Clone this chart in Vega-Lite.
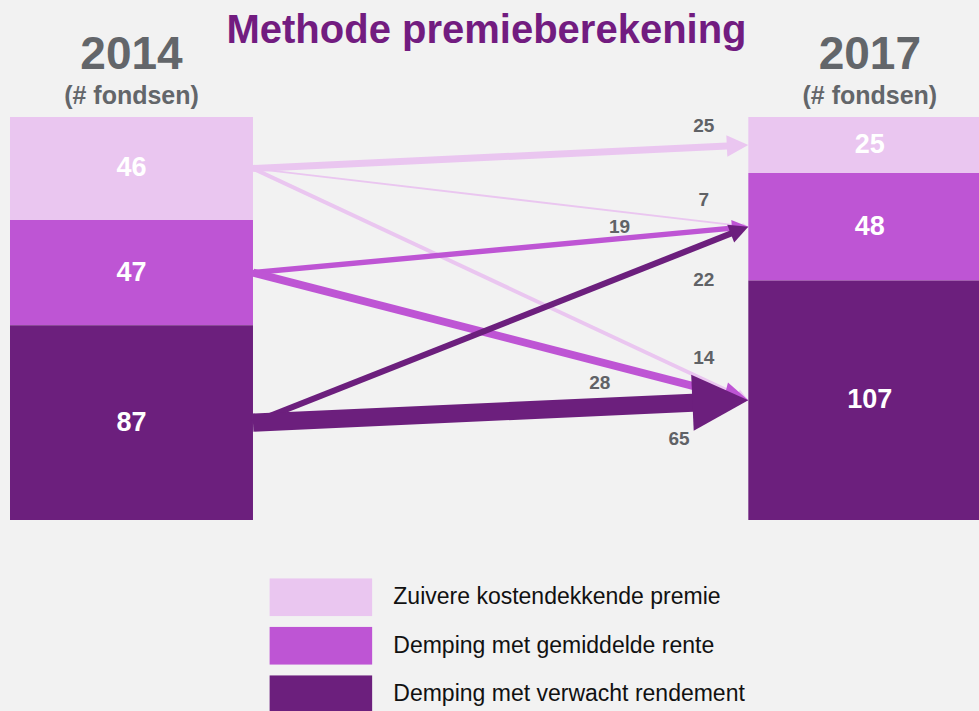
{
  "$schema": "https://vega.github.io/schema/vega-lite/v6.json",
  "autosize": "none",
  "width": 969,
  "height": 403,
  "padding": {"left": 10, "top": 117, "right": 0, "bottom": 191},
  "background": "#f2f2f2",
  "config": {"view": {"stroke": null}, "font": "Liberation Sans", "axis": {"grid": false}},
  "title": {
    "text": "Methode premieberekening",
    "fontSize": 40,
    "fontWeight": "bold",
    "color": "#721c80",
    "font": "Liberation Sans",
    "anchor": "middle",
    "frame": "group",
    "offset": -20,
    "dx": -8
  },
  "datasets": {
    "segments": [
      {"year": "2014", "method": "Zuivere kostendekkende premie", "rank": 1, "count": 46},
      {"year": "2014", "method": "Demping met gemiddelde rente", "rank": 2, "count": 47},
      {"year": "2014", "method": "Demping met verwacht rendement", "rank": 3, "count": 87},
      {"year": "2017", "method": "Zuivere kostendekkende premie", "rank": 1, "count": 25},
      {"year": "2017", "method": "Demping met gemiddelde rente", "rank": 2, "count": 48},
      {"year": "2017", "method": "Demping met verwacht rendement", "rank": 3, "count": 107}
    ],
    "flows": [
      {"from": "Zuivere kostendekkende premie", "to": "Zuivere kostendekkende premie", "fromRank": 1, "toRank": 1, "count": 25},
      {"from": "Zuivere kostendekkende premie", "to": "Demping met gemiddelde rente", "fromRank": 1, "toRank": 2, "count": 7},
      {"from": "Zuivere kostendekkende premie", "to": "Demping met verwacht rendement", "fromRank": 1, "toRank": 3, "count": 14},
      {"from": "Demping met gemiddelde rente", "to": "Demping met gemiddelde rente", "fromRank": 2, "toRank": 2, "count": 19},
      {"from": "Demping met gemiddelde rente", "to": "Demping met verwacht rendement", "fromRank": 2, "toRank": 3, "count": 28},
      {"from": "Demping met verwacht rendement", "to": "Demping met gemiddelde rente", "fromRank": 3, "toRank": 2, "count": 22},
      {"from": "Demping met verwacht rendement", "to": "Demping met verwacht rendement", "fromRank": 3, "toRank": 3, "count": 65}
    ]
  },
  "layer": [
    {
      "data": {"name": "segments"},
      "transform": [
        {"stack": "count", "groupby": ["year"], "sort": [{"field": "rank", "order": "ascending"}], "as": ["y0", "y1"]}
      ],
      "mark": {"type": "bar"},
      "encoding": {
        "x": {
          "field": "year", "type": "nominal",
          "scale": {"type": "band", "range": [0, 981.3], "paddingInner": 0.6709, "paddingOuter": 0},
          "axis": {"orient": "top", "title": null, "domain": false, "ticks": false, "tickSize": 0, "labelFontSize": 46, "labelFontWeight": "bold", "labelColor": "#63666a", "labelBaseline": "alphabetic", "labelPadding": 49, "labelAngle": 0, "grid": false}
        },
        "y": {"field": "y0", "type": "quantitative", "scale": {"domain": [0, 180], "reverse": true, "nice": false, "zero": false}, "axis": null},
        "y2": {"field": "y1"},
        "color": {
          "field": "method", "type": "nominal",
          "scale": {"domain": ["Zuivere kostendekkende premie", "Demping met gemiddelde rente", "Demping met verwacht rendement"], "range": ["#eac6f0", "#be55d4", "#6c1f7d"]},
          "legend": {
            "orient": "none", "legendX": 259.3, "legendY": 461.3, "direction": "vertical", "title": null,
            "symbolType": "M-1,-0.37H1V0.37H-1Z", "symbolSize": 10547, "symbolStrokeWidth": 0, "symbolOpacity": 1,
            "labelFontSize": 23, "labelColor": "#111111", "labelFont": "Liberation Sans", "labelOffset": 21, "labelLimit": 600,
            "rowPadding": 10.5, "clipHeight": 38, "padding": 0
          }
        }
      }
    },
    {
      "data": {"name": "segments"},
      "transform": [
        {"stack": "count", "groupby": ["year"], "sort": [{"field": "rank", "order": "ascending"}], "as": ["y0", "y1"]},
        {"calculate": "(datum.y0 + datum.y1) / 2", "as": "mid"}
      ],
      "mark": {"type": "text", "fontSize": 27, "fontWeight": "bold", "color": "#ffffff"},
      "encoding": {
        "x": {
          "field": "year", "type": "nominal",
          "scale": {"type": "band", "range": [0, 981.3], "paddingInner": 0.6709, "paddingOuter": 0},
          "axis": {"orient": "top", "title": null, "domain": false, "ticks": false, "tickSize": 0, "labelExpr": "'(# fondsen)'", "labelFontSize": 25, "labelFontWeight": "bold", "labelColor": "#63666a", "labelBaseline": "alphabetic", "labelPadding": 14, "labelAngle": 0, "grid": false}
        },
        "y": {"field": "mid", "type": "quantitative", "scale": {"domain": [0, 180], "reverse": true, "nice": false, "zero": false}, "axis": null},
        "text": {"field": "count", "type": "quantitative"}
      }
    },
    {
      "data": {"name": "flows"},
      "transform": [
        {"joinaggregate": [{"op": "sum", "field": "count", "as": "fromTotal"}], "groupby": ["from"]},
        {"joinaggregate": [{"op": "sum", "field": "count", "as": "toTotal"}], "groupby": ["to"]},
        {"window": [{"op": "sum", "field": "count", "as": "fromEnd"}], "sort": [{"field": "fromRank"}], "frame": [null, 0], "ignorePeers": false},
        {"window": [{"op": "sum", "field": "count", "as": "toEnd"}], "sort": [{"field": "toRank"}], "frame": [null, 0], "ignorePeers": false},
        {"calculate": "datum.fromEnd - datum.fromTotal / 2", "as": "fromMid"},
        {"calculate": "datum.toEnd - datum.toTotal / 2", "as": "toMid"},
        {"calculate": "0", "as": "tStart"},
        {"calculate": "1 - 0.43 * datum.count / 495.3", "as": "tEnd"},
        {"calculate": "datum.fromMid + (datum.toMid - datum.fromMid) * datum.tEnd", "as": "yEnd"}
      ],
      "mark": {"type": "rule", "strokeCap": "butt"},
      "encoding": {
        "x": {"field": "tStart", "type": "quantitative", "scale": {"domain": [-0.49061, 1.46578], "nice": false, "zero": false}, "axis": null},
        "x2": {"field": "tEnd"},
        "y": {"field": "fromMid", "type": "quantitative", "scale": {"domain": [0, 180], "reverse": true, "nice": false, "zero": false}, "axis": null},
        "y2": {"field": "yEnd"},
        "color": {"field": "from", "type": "nominal", "legend": null},
        "size": {"field": "count", "type": "quantitative", "scale": {"domain": [0, 65], "range": [0, 18.2]}, "legend": null}
      }
    },
    {
      "data": {"name": "flows"},
      "transform": [
        {"joinaggregate": [{"op": "sum", "field": "count", "as": "toTotal"}], "groupby": ["to"]},
        {"joinaggregate": [{"op": "sum", "field": "count", "as": "fromTotal"}], "groupby": ["from"]},
        {"window": [{"op": "sum", "field": "count", "as": "fromEnd"}], "sort": [{"field": "fromRank"}], "frame": [null, 0], "ignorePeers": false},
        {"window": [{"op": "sum", "field": "count", "as": "toEnd"}], "sort": [{"field": "toRank"}], "frame": [null, 0], "ignorePeers": false},
        {"calculate": "datum.fromEnd - datum.fromTotal / 2", "as": "fromMid"},
        {"calculate": "datum.toEnd - datum.toTotal / 2", "as": "toMid"},
        {"calculate": "1", "as": "tTip"},
        {"calculate": "atan2((datum.toMid - datum.fromMid) * 403 / 180, 495.3) * 180 / PI", "as": "angle"}
      ],
      "mark": {"type": "point", "shape": "M0,0L-2,-1L-2,1Z", "filled": true, "opacity": 1, "strokeWidth": 0},
      "encoding": {
        "x": {"field": "tTip", "type": "quantitative", "scale": {"domain": [-0.49061, 1.46578], "nice": false, "zero": false}, "axis": null},
        "y": {"field": "toMid", "type": "quantitative", "scale": {"domain": [0, 180], "reverse": true, "nice": false, "zero": false}, "axis": null},
        "angle": {"field": "angle", "type": "quantitative", "scale": {"type": "linear", "domain": [-360, 360], "range": [-360, 360]}},
        "color": {"field": "from", "type": "nominal", "legend": null},
        "size": {"field": "count", "type": "quantitative", "scale": {"type": "pow", "exponent": 2, "domain": [0, 65], "range": [0, 3125]}, "legend": null}
      }
    },
    {
      "data": {"name": "flows"},
      "transform": [
        {"joinaggregate": [{"op": "sum", "field": "count", "as": "fromTotal"}], "groupby": ["from"]},
        {"joinaggregate": [{"op": "sum", "field": "count", "as": "toTotal"}], "groupby": ["to"]},
        {"window": [{"op": "sum", "field": "count", "as": "fromEnd"}], "sort": [{"field": "fromRank"}], "frame": [null, 0], "ignorePeers": false},
        {"window": [{"op": "sum", "field": "count", "as": "toEnd"}], "sort": [{"field": "toRank"}], "frame": [null, 0], "ignorePeers": false},
        {"calculate": "datum.fromEnd - datum.fromTotal / 2", "as": "fromMid"},
        {"calculate": "datum.toEnd - datum.toTotal / 2", "as": "toMid"},
        {"calculate": "datum.fromRank == 2 ? (datum.toRank == 2 ? 0.74 : 0.7) : (datum.fromRank == 3 && datum.toRank == 3 ? 0.86 : 0.91)", "as": "labT"},
        {"calculate": "(datum.fromRank + datum.toRank <= 4 ? (datum.fromRank == 2 ? -12 : -21) : (datum.fromRank == 2 ? 21 : 36)) * 180 / 403", "as": "labOff"},
        {"calculate": "datum.fromMid + (datum.toMid - datum.fromMid) * datum.labT + datum.labOff", "as": "labY"}
      ],
      "mark": {"type": "text", "fontSize": 19, "fontWeight": "bold", "color": "#606266"},
      "encoding": {
        "x": {"field": "labT", "type": "quantitative", "scale": {"domain": [-0.49061, 1.46578], "nice": false, "zero": false}, "axis": null},
        "y": {"field": "labY", "type": "quantitative", "scale": {"domain": [0, 180], "reverse": true, "nice": false, "zero": false}, "axis": null},
        "text": {"field": "count", "type": "quantitative"}
      }
    }
  ],
  "resolve": {"scale": {"x": "independent", "size": "independent"}, "axis": {"x": "independent"}}
}
